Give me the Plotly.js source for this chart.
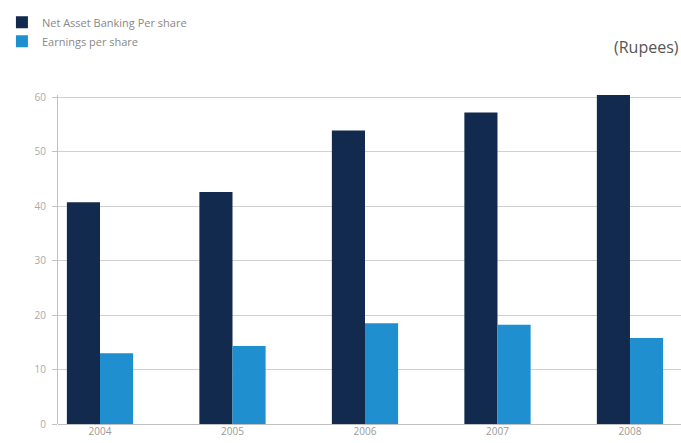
<!DOCTYPE html>
<html>
<head>
<meta charset="utf-8">
<script src="https://cdn.plot.ly/plotly-3.0.1.min.js"></script>
<style>html,body{margin:0;padding:0;background:#fff;}#chart{width:681px;height:443px;}</style>
</head>
<body>
<div id="chart"></div>
<script>
const years = ["2004", "2005", "2006", "2007", "2008"];
const netAssetPerShare = [40.7, 42.6, 53.9, 57.2, 60.4];
const earningsPerShare = [13.0, 14.3, 18.5, 18.2, 15.8];
const seriesNames = ["Net Asset Banking Per share", "Earnings per share"];
const yTicks = [0, 10, 20, 30, 40, 50, 60];

const traces = [
  {type: "bar", x: years, y: netAssetPerShare, name: seriesNames[0], marker: {color: "#132a4f"}, cliponaxis: false},
  {type: "bar", x: years, y: earningsPerShare, name: seriesNames[1], marker: {color: "#1f8fd0"}, cliponaxis: false}
];

const layout = {
  width: 681, height: 443,
  margin: {l: 58, r: 0, t: 95, b: 19},
  paper_bgcolor: "#fff", plot_bgcolor: "#fff",
  font: {family: "Open Sans, DejaVu Sans, sans-serif", color: "#888", size: 10},
  barmode: "group", bargap: 0.5, bargroupgap: 0,
  showlegend: true,
  legend: {x: -0.09, y: 1.265, xanchor: "left", yanchor: "top", font: {size: 11, color: "#888"},
           tracegroupgap: 0, itemwidth: 30, bgcolor: "rgba(0,0,0,0)"},
  xaxis: {type: "category", range: [-0.317, 4.385], showgrid: false, showline: false,
          ticks: "", tickfont: {size: 10, color: "#999"}, fixedrange: true},
  yaxis: {range: [0, 60.4], tickvals: yTicks, showgrid: true, gridcolor: "#d0d0d0", gridwidth: 1,
          showline: true, linecolor: "#c0c0c0", ticks: "outside", ticklen: 5, tickcolor: "#c0c0c0",
          ticklabelstandoff: 4,
          zeroline: true, zerolinecolor: "#c0c0c0", tickfont: {size: 10, color: "#aaa"}, fixedrange: true},
  annotations: [
    {text: "(Rupees)", xref: "paper", yref: "paper", x: 1.0, y: 1.145, xanchor: "right", yanchor: "middle",
     showarrow: false, font: {size: 16, color: "#555"}}
  ]
};

Plotly.newPlot("chart", traces, layout, {displayModeBar: false, staticPlot: true});
</script>
</body>
</html>
